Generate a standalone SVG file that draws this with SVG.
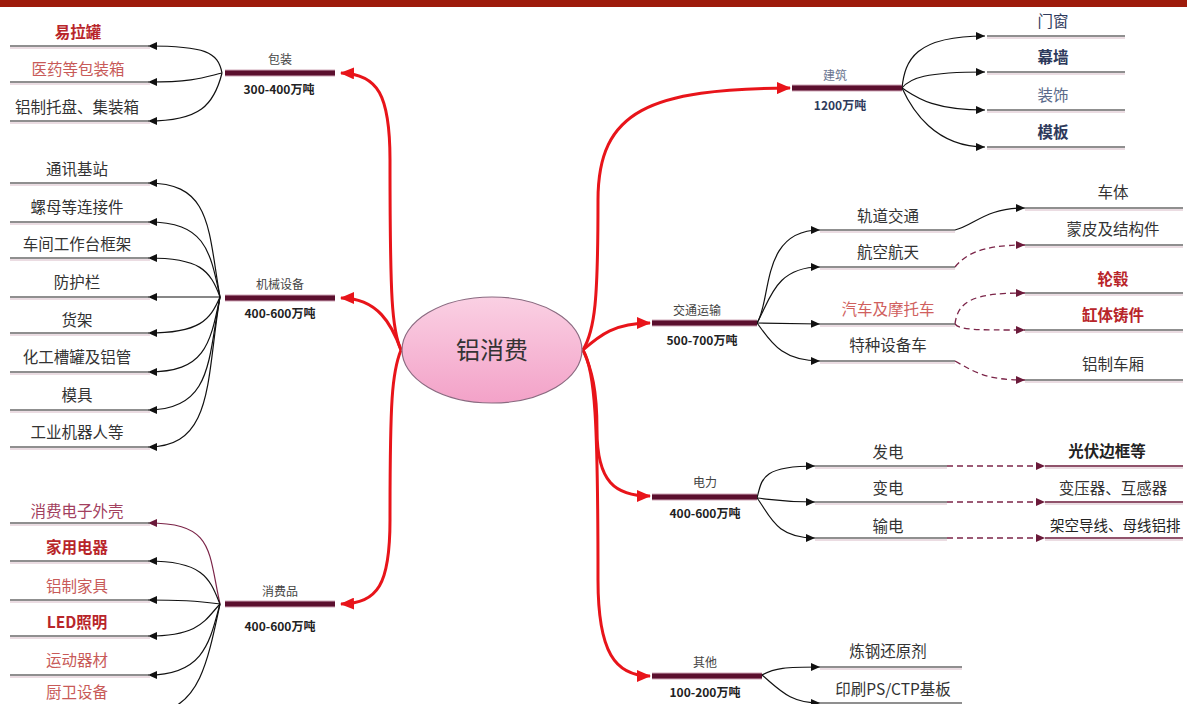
<svg xmlns="http://www.w3.org/2000/svg" width="1187" height="704" viewBox="0 0 1187 704">
<defs>
<marker id="ab" markerUnits="userSpaceOnUse" markerWidth="9" markerHeight="8" refX="9" refY="4" orient="auto"><path d="M0,0 L9,4 L0,8 z" fill="#111"/></marker>
<marker id="am" markerUnits="userSpaceOnUse" markerWidth="9" markerHeight="8" refX="9" refY="4" orient="auto"><path d="M0,0 L9,4 L0,8 z" fill="#6B1A3A"/></marker>
<marker id="ar" markerUnits="userSpaceOnUse" markerWidth="14" markerHeight="12" refX="13" refY="6" orient="auto"><path d="M0,0 L14,6 L0,12 z" fill="#E8141A"/></marker>
<linearGradient id="pg" x1="0" y1="0" x2="0" y2="1"><stop offset="0" stop-color="#FAD0E3"/><stop offset="1" stop-color="#F3A2C8"/></linearGradient>
</defs>
<style>
text{font-family:"Noto Sans CJK SC","Liberation Sans",sans-serif;text-anchor:middle}
.leaf{font-size:15.5px;fill:#333}
.red{fill:#B8252A;font-weight:bold}
.pink{fill:#C85A58}
.navy{fill:#2E3A5C}
.cat{font-size:12px;fill:#444}
.amt{font-size:12px;font-weight:bold;fill:#222}
.bar{stroke:#5B0F2E;stroke-width:5}
.barl{stroke:#D0A8B8;stroke-width:7}
.ln{stroke:#6A6A6A;stroke-width:1.6}
.ln2{stroke:#D7BAC6;stroke-width:1}
.c{fill:none;stroke:#111;stroke-width:1.2}
.cd{fill:none;stroke:#7B2448;stroke-width:1.3;stroke-dasharray:6 4}
.cr{fill:none;stroke:#E8141A;stroke-width:3}
</style>
<rect x="0" y="0" width="1187" height="7" fill="#9E1B0B"/>

<g id="connectors">
<path class="cr" d="M401,350 C392,330 390,300 390,160 C390,95 378,74 341,73" marker-end="url(#ar)"/>
<path class="cr" d="M401,350 C392,325 378,298 341,298" marker-end="url(#ar)"/>
<path class="cr" d="M401,350 C392,372 390,400 390,520 C390,585 378,603 341,604" marker-end="url(#ar)"/>
<path class="cr" d="M583,350 C595,330 598,300 598,200 C598,110 650,89 790,88" marker-end="url(#ar)"/>
<path class="cr" d="M583,350 C600,335 615,323 650,323" marker-end="url(#ar)"/>
<path class="cr" d="M583,350 C592,370 597,390 597,430 C597,482 615,496 650,496" marker-end="url(#ar)"/>
<path class="cr" d="M583,350 C595,370 598,420 598,580 C598,652 615,676 650,676" marker-end="url(#ar)"/>
<path class="c" d="M222,73 C218,52 205,46 148,46" marker-end="url(#ab)"/>
<path class="c" d="M222,73 C205,77 195,82 148,82" marker-end="url(#ab)"/>
<path class="c" d="M222,73 C214,105 200,121 148,121" marker-end="url(#ab)"/>
<path class="c" d="M220,297 C208,230 212,183 148,183" marker-end="url(#ab)"/>
<path class="c" d="M220,297 C210,250 205,222 148,222" marker-end="url(#ab)"/>
<path class="c" d="M220,297 C210,270 200,258 148,258" marker-end="url(#ab)"/>
<path class="c" d="M220,297 L148,297" marker-end="url(#ab)"/>
<path class="c" d="M220,297 C210,320 200,333 148,333" marker-end="url(#ab)"/>
<path class="c" d="M220,297 C210,345 205,372 148,372" marker-end="url(#ab)"/>
<path class="c" d="M220,297 C208,360 212,410 148,410" marker-end="url(#ab)"/>
<path class="c" d="M220,297 C206,380 214,447 148,447" marker-end="url(#ab)"/>
<path class="c" d="M220,604 C208,550 214,523 148,523" marker-end="url(#am)" style="stroke:#7B2448"/>
<path class="c" d="M220,604 C210,580 205,561 148,561" marker-end="url(#ab)"/>
<path class="c" d="M220,604 C205,602 195,600 148,600" marker-end="url(#ab)"/>
<path class="c" d="M220,604 C205,620 200,636 148,636" marker-end="url(#ab)"/>
<path class="c" d="M220,604 C210,640 205,675 148,675" marker-end="url(#ab)"/>
<path class="c" d="M220,604 C208,660 200,704 160,712"/>
<path class="c" d="M902,88 C905,60 915,36 985,36" marker-end="url(#ab)"/>
<path class="c" d="M902,88 C910,78 925,72 985,72" marker-end="url(#ab)"/>
<path class="c" d="M902,88 C915,96 930,110 985,110" marker-end="url(#ab)"/>
<path class="c" d="M902,88 C912,110 935,147 985,147" marker-end="url(#ab)"/>
<path class="c" d="M757,323 C772,300 760,230 820,230" marker-end="url(#ab)"/>
<path class="c" d="M757,323 C770,300 775,267 820,267" marker-end="url(#ab)"/>
<path class="c" d="M757,323 L820,324" marker-end="url(#ab)"/>
<path class="c" d="M757,323 C770,340 780,361 820,361" marker-end="url(#ab)"/>
<path class="c" d="M955,230 C975,225 985,208 1025,208" marker-end="url(#ab)"/>
<path class="cd" d="M955,267 C965,255 980,245 1025,245" marker-end="url(#am)"/>
<path class="cd" d="M955,324 C958,300 975,293 1025,293" marker-end="url(#am)"/>
<path class="cd" d="M955,324 C960,330 975,330 1025,330" marker-end="url(#am)"/>
<path class="cd" d="M955,361 C975,372 985,380 1025,380" marker-end="url(#am)"/>
<path class="c" d="M757,498 C762,480 760,466 815,466" marker-end="url(#ab)"/>
<path class="c" d="M757,498 C775,500 785,502 815,502" marker-end="url(#ab)"/>
<path class="c" d="M757,498 C770,515 775,538 815,538" marker-end="url(#ab)"/>
<path class="cd" d="M947,466 L1045,466" marker-end="url(#am)"/>
<path class="cd" d="M947,502 L1045,502" marker-end="url(#am)"/>
<path class="cd" d="M947,538 L1045,538" marker-end="url(#am)"/>
<path class="c" d="M762,675 C775,668 785,667 820,667" marker-end="url(#ab)"/>
<path class="c" d="M762,675 C780,690 790,703 820,703" marker-end="url(#ab)"/>
</g>

<g id="center">
<ellipse cx="492" cy="350" rx="90" ry="53" fill="url(#pg)" stroke="#8A6A80" stroke-width="1.2"/>
<text x="492" y="359" style="font-size:24px;fill:#333">铝消费</text>
</g>

<g id="cat-baozhuang"><line class="barl" x1="225" y1="73" x2="335" y2="73"/><line class="bar" x1="225" y1="73" x2="335" y2="73"/><text class="cat" x="280" y="64">包装</text><text class="amt" x="279" y="94">300-400万吨</text></g>
<g id="cat-jixie"><line class="barl" x1="225" y1="298" x2="335" y2="298"/><line class="bar" x1="225" y1="298" x2="335" y2="298"/><text class="cat" x="280" y="289">机械设备</text><text class="amt" x="280" y="318">400-600万吨</text></g>
<g id="cat-xiaofei"><line class="barl" x1="225" y1="604" x2="335" y2="604"/><line class="bar" x1="225" y1="604" x2="335" y2="604"/><text class="cat" x="280" y="596">消费品</text><text class="amt" x="280" y="631">400-600万吨</text></g>
<g id="cat-jianzhu"><line class="barl" x1="792" y1="88" x2="902" y2="88"/><line class="bar" x1="792" y1="88" x2="902" y2="88"/><text class="cat" x="835" y="80" style="fill:#6A7590">建筑</text><text class="amt" x="840" y="110" style="fill:#2E3A5C">1200万吨</text></g>
<g id="cat-jiaotong"><line class="barl" x1="652" y1="323" x2="757" y2="323"/><line class="bar" x1="652" y1="323" x2="757" y2="323"/><text class="cat" x="697" y="315">交通运输</text><text class="amt" x="702" y="345">500-700万吨</text></g>
<g id="cat-dianli"><line class="barl" x1="652" y1="497" x2="757" y2="497"/><line class="bar" x1="652" y1="497" x2="757" y2="497"/><text class="cat" x="705" y="487">电力</text><text class="amt" x="705" y="518">400-600万吨</text></g>
<g id="cat-qita"><line class="barl" x1="652" y1="676" x2="762" y2="676"/><line class="bar" x1="652" y1="676" x2="762" y2="676"/><text class="cat" x="705" y="667">其他</text><text class="amt" x="705" y="697">100-200万吨</text></g>

<g id="leaf-ylg"><line class="ln2" x1="10" y1="48" x2="150" y2="48"/><line class="ln" x1="10" y1="46" x2="150" y2="46"/><text class="leaf red" x="78" y="38">易拉罐</text></g>
<g id="leaf-yybzx"><line class="ln2" x1="10" y1="84" x2="150" y2="84"/><line class="ln" x1="10" y1="82" x2="150" y2="82"/><text class="leaf pink" x="78" y="75">医药等包装箱</text></g>
<g id="leaf-tp"><line class="ln2" x1="10" y1="123" x2="150" y2="123"/><line class="ln" x1="10" y1="121" x2="150" y2="121"/><text class="leaf" x="77" y="113">铝制托盘、集装箱</text></g>

<g id="leaf-txjz"><line class="ln2" x1="10" y1="185" x2="150" y2="185"/><line class="ln" x1="10" y1="183" x2="150" y2="183"/><text class="leaf" x="77" y="175">通讯基站</text></g>
<g id="leaf-lm"><line class="ln2" x1="10" y1="224" x2="150" y2="224"/><line class="ln" x1="10" y1="222" x2="150" y2="222"/><text class="leaf" x="77" y="213">螺母等连接件</text></g>
<g id="leaf-cj"><line class="ln2" x1="10" y1="260" x2="150" y2="260"/><line class="ln" x1="10" y1="258" x2="150" y2="258"/><text class="leaf" x="77" y="250">车间工作台框架</text></g>
<g id="leaf-fhl"><line class="ln2" x1="10" y1="299" x2="150" y2="299"/><line class="ln" x1="10" y1="297" x2="150" y2="297"/><text class="leaf" x="77" y="288">防护栏</text></g>
<g id="leaf-hj"><line class="ln2" x1="10" y1="335" x2="150" y2="335"/><line class="ln" x1="10" y1="333" x2="150" y2="333"/><text class="leaf" x="77" y="326">货架</text></g>
<g id="leaf-hg"><line class="ln2" x1="10" y1="374" x2="150" y2="374"/><line class="ln" x1="10" y1="372" x2="150" y2="372"/><text class="leaf" x="77" y="363">化工槽罐及铝管</text></g>
<g id="leaf-mj"><line class="ln2" x1="10" y1="412" x2="150" y2="412"/><line class="ln" x1="10" y1="410" x2="150" y2="410"/><text class="leaf" x="77" y="401">模具</text></g>
<g id="leaf-jqr"><line class="ln2" x1="10" y1="449" x2="150" y2="449"/><line class="ln" x1="10" y1="447" x2="150" y2="447"/><text class="leaf" x="77" y="438">工业机器人等</text></g>

<g id="leaf-dzwk"><line class="ln2" x1="10" y1="525" x2="150" y2="525"/><line class="ln" x1="10" y1="523" x2="150" y2="523"/><text class="leaf" x="77" y="517" style="fill:#A2405E">消费电子外壳</text></g>
<g id="leaf-jydq"><line class="ln2" x1="10" y1="563" x2="150" y2="563"/><line class="ln" x1="10" y1="561" x2="150" y2="561"/><text class="leaf red" x="77" y="553">家用电器</text></g>
<g id="leaf-jj"><line class="ln2" x1="10" y1="602" x2="150" y2="602"/><line class="ln" x1="10" y1="600" x2="150" y2="600"/><text class="leaf pink" x="77" y="592">铝制家具</text></g>
<g id="leaf-led"><line class="ln2" x1="10" y1="638" x2="150" y2="638"/><line class="ln" x1="10" y1="636" x2="150" y2="636"/><text class="leaf red" x="77" y="628">LED照明</text></g>
<g id="leaf-ydqc"><line class="ln2" x1="10" y1="677" x2="150" y2="677"/><line class="ln" x1="10" y1="675" x2="150" y2="675"/><text class="leaf pink" x="77" y="666">运动器材</text></g>
<g id="leaf-cw"><text class="leaf pink" x="77" y="698">厨卫设备</text></g>

<g id="leaf-mc"><line class="ln2" x1="987" y1="38" x2="1125" y2="38"/><line class="ln" x1="987" y1="36" x2="1125" y2="36"/><text class="leaf navy" x="1053" y="27">门窗</text></g>
<g id="leaf-mq"><line class="ln2" x1="987" y1="74" x2="1125" y2="74"/><line class="ln" x1="987" y1="72" x2="1125" y2="72"/><text class="leaf navy" x="1053" y="63" style="font-weight:bold">幕墙</text></g>
<g id="leaf-zs"><line class="ln2" x1="987" y1="112" x2="1125" y2="112"/><line class="ln" x1="987" y1="110" x2="1125" y2="110"/><text class="leaf" x="1053" y="101" style="fill:#5A6A8A">装饰</text></g>
<g id="leaf-mb"><line class="ln2" x1="987" y1="149" x2="1125" y2="149"/><line class="ln" x1="987" y1="147" x2="1125" y2="147"/><text class="leaf navy" x="1053" y="138" style="font-weight:bold">模板</text></g>

<g id="leaf-gdjt"><line class="ln2" x1="820" y1="232" x2="955" y2="232"/><line class="ln" x1="820" y1="230" x2="955" y2="230"/><text class="leaf" x="888" y="222">轨道交通</text></g>
<g id="leaf-hkht"><line class="ln2" x1="820" y1="269" x2="955" y2="269"/><line class="ln" x1="820" y1="267" x2="955" y2="267"/><text class="leaf" x="888" y="258">航空航天</text></g>
<g id="leaf-qc"><line class="ln2" x1="820" y1="326" x2="955" y2="326"/><line class="ln" x1="820" y1="324" x2="955" y2="324"/><text class="leaf" x="888" y="315" style="fill:#D0605E">汽车及摩托车</text></g>
<g id="leaf-tz"><line class="ln2" x1="820" y1="363" x2="955" y2="363"/><line class="ln" x1="820" y1="361" x2="955" y2="361"/><text class="leaf" x="888" y="351">特种设备车</text></g>
<g id="leaf-ct"><line class="ln2" x1="1025" y1="210" x2="1183" y2="210"/><line class="ln" x1="1025" y1="208" x2="1183" y2="208"/><text class="leaf" x="1113" y="198">车体</text></g>
<g id="leaf-mp"><line class="ln2" x1="1025" y1="247" x2="1183" y2="247"/><line class="ln" x1="1025" y1="245" x2="1183" y2="245"/><text class="leaf" x="1113" y="235">蒙皮及结构件</text></g>
<g id="leaf-lg"><line class="ln2" x1="1025" y1="295" x2="1183" y2="295"/><line class="ln" x1="1025" y1="293" x2="1183" y2="293"/><text class="leaf red" x="1113" y="285">轮毂</text></g>
<g id="leaf-gt"><line class="ln2" x1="1025" y1="332" x2="1183" y2="332"/><line class="ln" x1="1025" y1="330" x2="1183" y2="330"/><text class="leaf red" x="1113" y="321">缸体铸件</text></g>
<g id="leaf-cx"><line class="ln2" x1="1025" y1="382" x2="1183" y2="382"/><line class="ln" x1="1025" y1="380" x2="1183" y2="380"/><text class="leaf" x="1113" y="370">铝制车厢</text></g>

<g id="leaf-fd"><line class="ln2" x1="815" y1="468" x2="947" y2="468"/><line class="ln" x1="815" y1="466" x2="947" y2="466"/><text class="leaf" x="888" y="458">发电</text></g>
<g id="leaf-bd"><line class="ln2" x1="815" y1="504" x2="947" y2="504"/><line class="ln" x1="815" y1="502" x2="947" y2="502"/><text class="leaf" x="888" y="494">变电</text></g>
<g id="leaf-sd"><line class="ln2" x1="815" y1="540" x2="947" y2="540"/><line class="ln" x1="815" y1="538" x2="947" y2="538"/><text class="leaf" x="888" y="532">输电</text></g>
<g id="leaf-gf"><line class="ln2" x1="1045" y1="468" x2="1183" y2="468"/><line class="ln" x1="1045" y1="466" x2="1183" y2="466" style="stroke:#6B1A3A"/><text class="leaf" x="1107" y="457" style="font-weight:bold;fill:#222">光伏边框等</text></g>
<g id="leaf-byq"><line class="ln2" x1="1045" y1="504" x2="1183" y2="504"/><line class="ln" x1="1045" y1="502" x2="1183" y2="502" style="stroke:#6B1A3A"/><text class="leaf" x="1113" y="494">变压器、互感器</text></g>
<g id="leaf-jk"><line class="ln2" x1="1045" y1="540" x2="1183" y2="540"/><line class="ln" x1="1045" y1="538" x2="1183" y2="538" style="stroke:#6B1A3A"/><text class="leaf" x="1050" y="531" style="text-anchor:start;fill:#222;font-size:14.5px">架空导线、母线铝排</text></g>

<g id="leaf-lg2"><line class="ln2" x1="820" y1="669" x2="962" y2="669"/><line class="ln" x1="820" y1="667" x2="962" y2="667"/><text class="leaf" x="888" y="657">炼钢还原剂</text></g>
<g id="leaf-ys"><line class="ln" x1="820" y1="703" x2="962" y2="703"/><text class="leaf" x="893" y="695">印刷PS/CTP基板</text></g>
</svg>
